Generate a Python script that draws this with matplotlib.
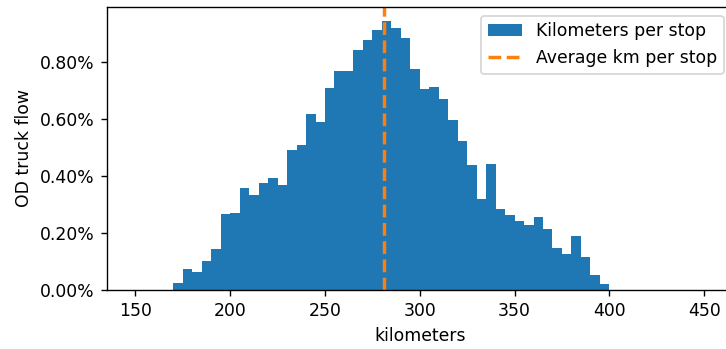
from matplotlib import pyplot as plt
from matplotlib.ticker import PercentFormatter
import numpy as np

# 5 km bins from 170 to 400 km, share of OD truck flow in percent
bin_edges = np.arange(170, 401, 5)
flow_pct = [
    0.023, 0.075, 0.063, 0.103, 0.144, 0.267, 0.270, 0.358, 0.332, 0.374,
    0.391, 0.367, 0.489, 0.508, 0.618, 0.588, 0.707, 0.768, 0.766, 0.840,
    0.877, 0.912, 0.944, 0.917, 0.882, 0.776, 0.703, 0.710, 0.668, 0.597,
    0.521, 0.437, 0.320, 0.443, 0.283, 0.262, 0.242, 0.228, 0.256, 0.214,
    0.146, 0.125, 0.188, 0.116, 0.054, 0.021,
]
avg_km = 281.2


def plot_km_per_stop():
    '''
    Histogram of kilometers per stop with the average marked
    '''
    centers = bin_edges[:-1] + 2.5

    dpi = 124
    fig = plt.figure(figsize=(726 / dpi, 349 / dpi), dpi=dpi)
    ax = fig.add_axes([0.1474, 0.169, 0.8616, 0.811])
    ax.hist(centers, bins=bin_edges, weights=flow_pct,
            color="#1f77b4", label="Kilometers per stop")
    ax.axvline(avg_km, color="#ff7f0e", linestyle="--", linewidth=2,
               label="Average km per stop")

    ax.set_xlim(135, 465)
    ax.set_ylim(0, 0.9916)
    ax.set_xticks([150, 200, 250, 300, 350, 400, 450])
    ax.set_yticks([0, 0.2, 0.4, 0.6, 0.8])
    ax.yaxis.set_major_formatter(PercentFormatter(100, decimals=2))
    ax.set_xlabel("kilometers")
    ax.set_ylabel("OD truck flow")
    ax.legend(loc="upper right")

    fig.savefig("out.png", dpi=dpi)


if __name__ == "__main__":
    plot_km_per_stop()
